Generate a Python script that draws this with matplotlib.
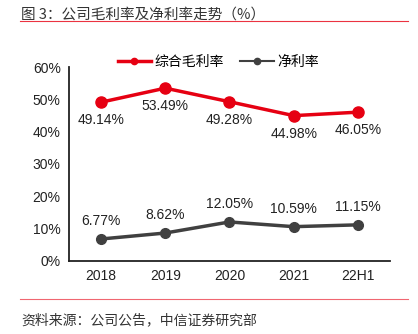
import matplotlib.pyplot as plt
from matplotlib.lines import Line2D

plt.rcParams["font.family"] = ["Liberation Sans", "Noto Sans CJK SC"]

years = ["2018", "2019", "2020", "2021", "22H1"]
gross_margin = [49.14, 53.49, 49.28, 44.98, 46.05]
net_margin = [6.77, 8.62, 12.05, 10.59, 11.15]

red = "#E60012"
dark = "#404040"

fig = plt.figure(figsize=(4.18, 3.34), dpi=100)
ax = fig.add_axes([0.165, 0.219, 0.768, 0.58])

x = range(len(years))
ax.plot(x, gross_margin, color=red, lw=2.5, marker="o", ms=8)
ax.plot(x, net_margin, color=dark, lw=2.5, marker="o", ms=7)

for i, v in enumerate(gross_margin):
    ax.annotate(f"{v:.2f}%", (i, v), xytext=(0, -8), textcoords="offset points",
                ha="center", va="top", fontsize=10, color="#222222")
for i, v in enumerate(net_margin):
    ax.annotate(f"{v:.2f}%", (i, v), xytext=(0, 8), textcoords="offset points",
                ha="center", va="bottom", fontsize=10, color="#222222")

ax.set_xlim(-0.5, 4.5)
ax.set_ylim(0, 60)
ax.set_yticks(range(0, 61, 10))
ax.set_yticklabels([f"{t}%" for t in range(0, 61, 10)])
ax.set_xticks(list(x))
ax.set_xticklabels(years)
ax.tick_params(axis="both", length=0, labelsize=10, colors="#222222", pad=6)
ax.spines["top"].set_visible(False)
ax.spines["right"].set_visible(False)
for s in ["left", "bottom"]:
    ax.spines[s].set_linewidth(1.3)
    ax.spines[s].set_color("#222222")

# legend with small markers, like the source
handles = [
    Line2D([], [], color=red, lw=2.5, marker="o", ms=4.5),
    Line2D([], [], color=dark, lw=1.5, marker="o", ms=4.5),
]
ax.legend(handles, ["综合毛利率", "净利率"], loc="center", bbox_to_anchor=(0.465, 1.028),
          ncol=2, frameon=False, handlelength=2.4, handletextpad=0.25,
          columnspacing=1.2, prop={"family": ["Noto Sans CJK SC"], "size": 10})

fig.text(0.05, 0.955, "图 3：公司毛利率及净利率走势（%）", fontsize=10.5,
         color="#333333", family=["Noto Sans CJK SC"], va="center")
fig.add_artist(Line2D([0.048, 0.976], [0.936, 0.936], color=red, lw=0.8, alpha=0.8))
fig.add_artist(Line2D([0.048, 0.976], [0.105, 0.105], color=red, lw=0.8, alpha=0.6))
fig.text(0.05, 0.04, "资料来源：公司公告，中信证券研究部", fontsize=10,
         color="#333333", family=["Noto Sans CJK SC"], va="center")

fig.savefig("out.png", dpi=100)
